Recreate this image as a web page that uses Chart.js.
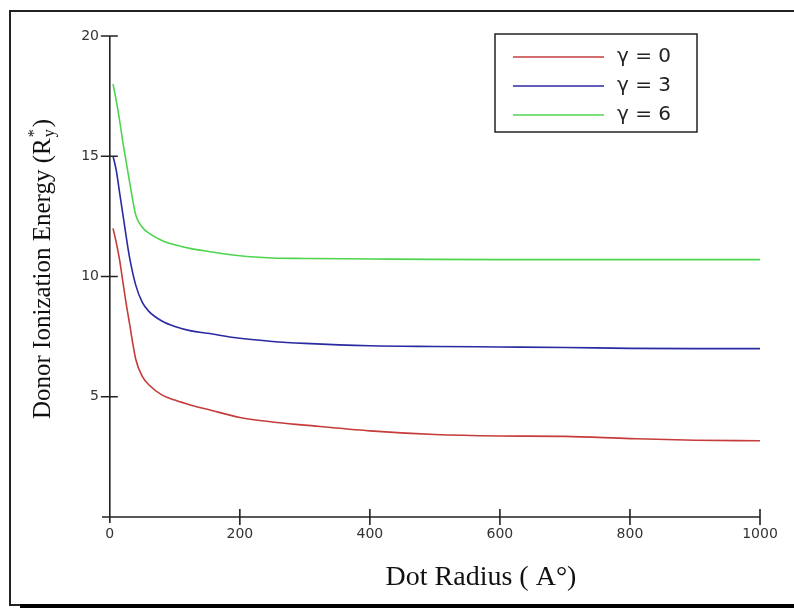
<!DOCTYPE html>
<html>
<head>
<meta charset="utf-8">
<title>Donor Ionization Energy vs Dot Radius</title>
<script src="https://cdn.jsdelivr.net/npm/chart.js@4.4.1/dist/chart.umd.min.js"></script>
<style>
  html, body { margin: 0; padding: 0; background: #fff; }
  canvas { display: block; }
</style>
</head>
<body>
<canvas id="chart" width="794" height="608"></canvas>
<script>
// dot radius (A°) and ionization energy (R*y)
const radius = [5, 10, 15, 20, 25, 30, 40, 50, 60, 80, 100, 125, 150, 200, 250, 300, 400, 500, 600, 700, 800, 900, 1000];
const gamma0 = [12.0, 11.4, 10.7, 9.8, 8.9, 8.1, 6.55, 5.85, 5.5, 5.08, 4.86, 4.65, 4.48, 4.14, 3.95, 3.82, 3.58, 3.43, 3.37, 3.35, 3.26, 3.19, 3.17];
const gamma3 = [15.0, 14.4, 13.5, 12.6, 11.7, 10.85, 9.63, 8.92, 8.55, 8.15, 7.92, 7.74, 7.64, 7.43, 7.30, 7.22, 7.12, 7.09, 7.07, 7.05, 7.01, 7.0, 7.0];
const gamma6 = [18.0, 17.3, 16.5, 15.6, 14.8, 14.0, 12.55, 12.05, 11.8, 11.5, 11.32, 11.16, 11.05, 10.86, 10.77, 10.75, 10.73, 10.71, 10.70, 10.70, 10.70, 10.70, 10.70];
const seriesLabels = ['γ = 0', 'γ = 3', 'γ = 6'];
const seriesColors = ['#c63c3c', '#2a2aa2', '#4fd44f'];
const xTicks = [0, 200, 400, 600, 800, 1000];
const yTicks = [5, 10, 15, 20];

const toPoints = ys => radius.map((r, i) => ({ x: r, y: ys[i] }));
const tickFont = { family: '"DejaVu Sans", sans-serif', size: 14 };

// outer frame of the picture
const frame = {
  id: 'frame',
  beforeDraw(chart) {
    const ctx = chart.ctx;
    ctx.save();
    ctx.fillStyle = '#fff';
    ctx.fillRect(0, 0, chart.width, chart.height);
    ctx.strokeStyle = '#222';
    ctx.lineWidth = 2;
    ctx.beginPath();
    ctx.moveTo(chart.width, 11);
    ctx.lineTo(10, 11);
    ctx.lineTo(10, 605);
    ctx.lineTo(20, 605);
    ctx.stroke();
    ctx.strokeStyle = '#000';
    ctx.lineWidth = 4;
    ctx.beginPath();
    ctx.moveTo(20, 606);
    ctx.lineTo(chart.width, 606);
    ctx.stroke();
    ctx.restore();
  }
};

// axes crossing at the origin, with ticks through the axis line
const crossedAxes = {
  id: 'crossedAxes',
  beforeDatasetsDraw(chart) {
    const { ctx, scales: { x, y } } = chart;
    const x0 = x.getPixelForValue(0);
    const y0 = y.getPixelForValue(0);
    ctx.save();
    ctx.strokeStyle = '#222';
    ctx.lineWidth = 1.6;
    ctx.beginPath();
    ctx.moveTo(x.left, y0);
    ctx.lineTo(x.getPixelForValue(xTicks[xTicks.length - 1]), y0);
    ctx.moveTo(x0, y.bottom);
    ctx.lineTo(x0, y.getPixelForValue(yTicks[yTicks.length - 1]));
    yTicks.forEach(v => {
      const p = y.getPixelForValue(v);
      ctx.moveTo(x0 - 9, p);
      ctx.lineTo(x0 + 8, p);
    });
    xTicks.slice(1).forEach(v => {
      const p = x.getPixelForValue(v);
      ctx.moveTo(p, y0 - 8);
      ctx.lineTo(p, y0 + 8);
    });
    ctx.stroke();
    ctx.restore();
  }
};

// legend inside a box at the top right
const boxedLegend = {
  id: 'boxedLegend',
  afterDatasetsDraw(chart) {
    const { ctx, chartArea } = chart;
    const w = 202, h = 98;
    const left = chartArea.right - 63 - w;
    const top = chartArea.top - 2;
    ctx.save();
    ctx.strokeStyle = '#222';
    ctx.lineWidth = 1.5;
    ctx.strokeRect(left, top, w, h);
    ctx.font = '20px "DejaVu Sans", sans-serif';
    ctx.textBaseline = 'middle';
    ctx.fillStyle = '#222';
    chart.data.datasets.forEach((ds, i) => {
      const yy = top + 23 + i * 29;
      ctx.strokeStyle = ds.borderColor;
      ctx.lineWidth = 1.5;
      ctx.beginPath();
      ctx.moveTo(left + 18, yy);
      ctx.lineTo(left + 109, yy);
      ctx.stroke();
      ctx.fillText(ds.label, left + 122, yy);
    });
    ctx.restore();
  }
};

// axis titles (the y title needs a superscript * and subscript y)
const axisTitles = {
  id: 'axisTitles',
  afterDraw(chart) {
    const ctx = chart.ctx;
    const big = '25px "Liberation Serif", serif';
    const small = '16px "Liberation Serif", serif';
    const main = 'Donor Ionization Energy (R';
    ctx.save();
    ctx.fillStyle = '#111';
    ctx.font = big;
    const w1 = ctx.measureText(main).width;
    const w4 = ctx.measureText(')').width;
    ctx.font = small;
    const wSub = Math.max(ctx.measureText('*').width, ctx.measureText('y').width) + 3;
    const total = w1 + wSub + w4;
    ctx.translate(42, 269);
    ctx.rotate(-Math.PI / 2);
    let cx = -total / 2;
    const base = 8;
    ctx.font = big;
    ctx.fillText(main, cx, base);
    cx += w1;
    ctx.font = small;
    ctx.fillText('*', cx + 1, base - 11);
    ctx.fillText('y', cx + 1, base + 4);
    cx += wSub;
    ctx.font = big;
    ctx.fillText(')', cx, base);
    ctx.setTransform(1, 0, 0, 1, 0, 0);

    ctx.font = '28px "Liberation Serif", serif';
    ctx.textAlign = 'center';
    ctx.textBaseline = 'middle';
    ctx.fillText('Dot Radius ( A°)', 481, 578);
    ctx.restore();
  }
};

const ctx = document.getElementById('chart').getContext('2d');
const chart = new Chart(ctx, {
  type: 'line',
  data: {
    datasets: [gamma0, gamma3, gamma6].map((ys, i) => ({
      label: seriesLabels[i],
      data: toPoints(ys),
      borderColor: seriesColors[i],
      backgroundColor: seriesColors[i],
      borderWidth: 1.6,
      pointRadius: 0,
      fill: false,
      cubicInterpolationMode: 'monotone'
    }))
  },
  options: {
    responsive: false,
    animation: false,
    layout: { padding: { top: 36, right: 34, bottom: 0, left: 0 } },
    plugins: {
      legend: { display: false },
      tooltip: { enabled: false }
    },
    scales: {
      x: {
        type: 'linear',
        min: -12,
        max: 1000,
        grid: { display: false, drawTicks: false },
        border: { display: false },
        afterBuildTicks: s => { s.ticks = xTicks.map(v => ({ value: v })); },
        afterFit: s => { s.height = 85; },
        ticks: {
          font: tickFont, color: '#333', padding: 3, maxRotation: 0, autoSkip: false,
          callback: v => String(v)
        }
      },
      y: {
        type: 'linear',
        min: -0.25,
        max: 20,
        grid: { display: false, drawTicks: false },
        border: { display: false },
        afterBuildTicks: s => { s.ticks = yTicks.map(v => ({ value: v })); },
        afterFit: s => { s.width = 102; },
        ticks: { font: tickFont, color: '#333', padding: 3, autoSkip: false, callback: v => String(v) }
      }
    }
  },
  plugins: [frame, crossedAxes, boxedLegend, axisTitles]
});
</script>
</body>
</html>
